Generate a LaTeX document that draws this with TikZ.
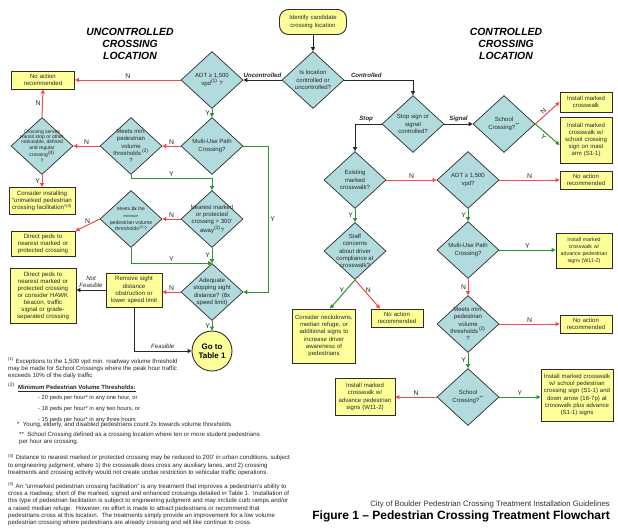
\documentclass[tikz,border=0pt]{standalone}
\usepackage{fontspec}
\setmainfont{Liberation Sans}
\usetikzlibrary{shapes.geometric,arrows.meta,calc}
\definecolor{dfill}{RGB}{178,219,222}
\definecolor{bfill}{RGB}{255,255,153}
\definecolor{ared}{RGB}{250,70,70}
\definecolor{agreen}{RGB}{40,150,40}
\definecolor{bord}{RGB}{45,45,45}
\newcommand{\fsz}[2]{\fontsize{#1}{#2}\selectfont}
\tikzset{
  dia/.style={diamond, draw=bord, line width=.7pt, fill=dfill, minimum width=62pt, minimum height=57pt, inner sep=0pt},
  dtxt/.style={align=center, font=\fsz{6}{7.3}, inner sep=0pt, text=black!85},
  box/.style={rectangle, draw=bord, line width=.9pt, fill=bfill, align=center, inner sep=1pt, font=\fsz{6}{7.2}, text=black!85},
  lbox/.style={box, font=\fsz{6.1}{7.1}},
  rbox/.style={box, rounded corners=9pt},
  circ/.style={circle, draw=bord, line width=.9pt, fill=bfill, minimum size=40pt, inner sep=0pt, align=center, font=\fsz{8}{9.2}\bfseries},
  ln/.style={line width=1pt, -{Triangle[length=4pt,width=4pt]}},
  rl/.style={ln, draw=ared},
  gl/.style={ln, draw=agreen},
  kl/.style={ln, draw=black!85},
  yn/.style={font=\fsz{6.8}{7}, text=black!85, inner sep=1.5pt},
  bl/.style={font=\fsz{6.1}{6.5}\bfseries\itshape, inner sep=1.5pt, text=black!85},
  il/.style={font=\fsz{6.1}{7}\itshape, inner sep=1.5pt, align=center, text=black!85},
  hdr/.style={font=\fsz{10.4}{12}\bfseries\itshape, align=center},
  fn/.style={font=\fsz{6.1}{7.3}, align=left, anchor=north west, inner sep=0pt, text=black!85},
}
\begin{document}
\begin{tikzpicture}[x=1pt,y=-1pt]
\useasboundingbox[fill=white] (0,0) rectangle (618,528);
% headers
\node[hdr] (hU) at (130,44) {UNCONTROLLED\\CROSSING\\LOCATION};
\node[hdr] (hC) at (506,44) {CONTROLLED\\CROSSING\\LOCATION};
% start
\node[rbox, minimum width=67pt, minimum height=25pt, text width=64pt] (start) at (313,22) {Identify candidate\\crossing location};
\node[dia, label={[dtxt]center:{Is location\\controlled or\\uncontrolled?}}] (ctl) at (313,80) {};
% uncontrolled side
\node[dia, label={[dtxt]center:{ADT ≥ 1,500\\vpd\textsuperscript{(1)} ?}}] (adtU) at (212,80) {};
\node[box, minimum width=63pt, minimum height=18pt, text width=61pt] (na1) at (43,80) {No action\\recommended};
\node[dia, label={[dtxt]center:{Multi-Use Path\\Crossing?}}] (mupU) at (212,146) {};
\node[dia, label={[dtxt]center:{Meets min.\\pedestrian\\volume\\thresholds\,\textsuperscript{(2)}\\?}}] (mmU) at (131,146) {};
\node[dia, label={[dtxt,font=\fsz{5}{5.2}]center:{Crossing serves\\transit stop or other\\noticeable, defined\\and regular\\crossing\textsuperscript{(4)}\\?}}] (cs) at (42,146) {};
\node[lbox, minimum width=66pt, minimum height=27pt, text width=64pt] (ci) at (42,201) {Consider installing\\``unmarked pedestrian\\crossing facilitation''\textsuperscript{(4)}};
\node[dia, label={[dtxt]center:{Nearest marked\\or protected\\crossing > 300'\\away\textsuperscript{(3)}?}}] (near) at (212,219) {};
\node[dia, label={[dtxt,font=\fsz{5.2}{6.6}]center:{{\fsz{4.8}{5.5}Meets \textbf{2x} the}\\{\fsz{3.6}{4.5}minimum}\\pedestrian volume\\thresholds\textsuperscript{(2)}?}}] (m2x) at (131,219) {};
\node[lbox, minimum width=64pt, minimum height=25pt, text width=62pt] (dp) at (43,244) {Direct peds to\\nearest marked or\\protected crossing};
\node[dia, label={[dtxt]center:{Adequate\\stopping sight\\distance? (8x\\speed limit)}}] (adq) at (212,292) {};
\node[lbox, minimum width=56pt, minimum height=34pt, text width=54pt] (rm) at (134,290) {Remove sight\\distance\\obstruction or\\lower speed limit};
\node[lbox, minimum width=66pt, minimum height=55pt, text width=64pt] (hk) at (43,296) {Direct peds to\\nearest marked or\\protected crossing\\or consider HAWK\\beacon, traffic\\signal or grade-\\separated crossing};
\node[circ] (goto) at (212,351) {Go to\\Table 1};
% controlled side
\node[dia, label={[dtxt]center:{Stop sign or\\signal\\controlled?}}] (stop) at (413,124) {};
\node[dia, label={[dtxt]center:{School\\Crossing?\textsuperscript{**}}}] (sc1) at (504,124) {};
\node[box, minimum width=52pt, minimum height=20pt, text width=50pt] (im1) at (586,102) {Install marked\\crosswalk};
\node[box, minimum width=52pt, minimum height=46pt, text width=50pt] (im2) at (586,140) {Install marked\\crosswalk w/\\school crossing\\sign on mast\\arm (S1-1)};
\node[dia, label={[dtxt]center:{Existing\\marked\\crosswalk?}}] (ex) at (355,180) {};
\node[dia, label={[dtxt]center:{ADT ≥ 1,500\\vpd?}}] (adtC) at (468,180) {};
\node[box, minimum width=52pt, minimum height=18pt, text width=50pt] (na2) at (586,180) {No action\\recommended};
\node[dia, label={[dtxt]center:{Multi-Use Path\\Crossing?}}] (mupC) at (468,250) {};
\node[box, font=\fsz{5.3}{7}, minimum width=56pt, minimum height=35pt, text width=54pt] (w11a) at (584,251) {Install marked\\crosswalk w/\\advance pedestrian\\signs (W11-2)};
\node[dia, label={[dtxt]center:{Meets min.\\pedestrian\\volume\\thresholds\,\textsuperscript{(2)}\\?}}] (mmC) at (468,324) {};
\node[box, minimum width=52pt, minimum height=18pt, text width=50pt] (na3) at (586,324) {No action\\recommended};
\node[dia, label={[dtxt]center:{School\\Crossing?\textsuperscript{**}}}] (sc2) at (468,397) {};
\node[box, minimum width=60pt, minimum height=37pt, text width=58pt] (w11b) at (365,397) {Install marked\\crosswalk w/\\advance pedestrian\\signs (W11-2)};
\node[box, minimum width=72pt, minimum height=52pt, text width=70pt] (s11) at (577,395) {Install marked crosswalk\\w/ school pedestrian\\crossing sign (S1-1) and\\down arrow (16-7p) at\\crosswalk plus advance\\(S1-1) signs};
\node[dia, label={[dtxt]center:{Staff\\concerns\\about driver\\compliance at\\crosswalk?}}] (staff) at (355,251) {};
\node[box, minimum width=63pt, minimum height=54pt, text width=61pt] (neck) at (324,336) {Consider neckdowns,\\median refuge, or\\additional signs to\\increase driver\\awareness of\\pedestrians};
\node[box, minimum width=52pt, minimum height=18pt, text width=50pt] (na4) at (397,318) {No action\\recommended};
% connectors
\draw[kl] (start.south) -- (ctl.north);
\draw[kl] (ctl.west) -- node[bl,above]{Uncontrolled} (adtU.east);
\draw[kl] (ctl.east) -| node[bl,above,pos=.16]{Controlled} (stop.north);
\draw[kl] (stop.west) -| node[bl,above,pos=.29]{Stop} (ex.north);
\draw[kl] (stop.east) -- node[bl,above]{Signal} (sc1.west);
\draw[rl] (sc1.east) -- node[yn,above,sloped,pos=.45]{N} (im1.west);
\draw[gl] (sc1.east) -- node[yn,below,sloped,pos=.45]{Y} ([yshift=-5pt]im2.west);
\draw[rl] (ex.east) -- node[yn,above]{N} (adtC.west);
\draw[rl] (adtC.east) -- node[yn,above]{N} (na2.west);
\draw[gl] (adtC.south) -- node[yn,left]{Y} (mupC.north);
\draw[gl] (mupC.east) -- node[yn,above]{Y} (mupC.east -| w11a.west);
\draw[rl] (mupC.south) -- node[yn,left]{N} (mmC.north);
\draw[rl] (mmC.east) -- node[yn,above]{N} (na3.west);
\draw[gl] (mmC.south) -- node[yn,left]{Y} (sc2.north);
\draw[rl] (sc2.west) -- node[yn,above]{N} (w11b.east);
\draw[gl] (sc2.east) -- node[yn,above]{Y} (sc2.east -| s11.west);
\draw[gl] (ex.south) -- node[yn,left]{Y} (staff.north);
\draw[gl] (staff.south) -- node[yn,left,pos=.35]{Y} ([xshift=6pt]neck.north);
\draw[rl] (staff.south) -- node[yn,right,pos=.35]{N} ([xshift=-17pt]na4.north);
\draw[rl] (adtU.west) -- node[yn,above]{N} (na1.east);
\draw[gl] (adtU.south) -- node[yn,left]{Y} (mupU.north);
\draw[rl] (mupU.west) -- node[yn,above]{N} (mmU.east);
\draw[rl] (mmU.west) -- node[yn,above]{N} (cs.east);
\draw[rl] (cs.north) -- node[yn,left]{N} (na1.south);
\draw[rl] (cs.south) -- node[yn,left]{Y} (ci.north);
\draw[gl] (mmU.south) -- ++(0,4) -| node[yn,above,pos=.25]{Y} (near.north);
\draw[gl] (mupU.east) -- ++(25,0) |- node[yn,right,pos=.25]{Y} (adq.east);
\draw[rl] (near.west) -- node[yn,above]{N} (m2x.east);
\draw[rl] (m2x.west) -- node[yn,above]{N} (dp.north east);
\draw[gl] (near.south) -- node[yn,left]{Y} (adq.north);
\draw[gl] (m2x.south) |- node[yn,above,pos=.75]{Y} (adq.north);
\draw[rl] (adq.west) -- node[yn,above]{N} (adq.west -| rm.east);
\draw[gl] (adq.south) -- node[yn,left]{Y} (goto.north);
\draw[kl] (rm.west) -- node[il,above]{Not\\Feasible} (rm.west -| hk.east);
\draw[kl] (rm.south) |- node[il,above,pos=.75]{Feasible} (goto.west);
% footnotes
\node[fn] (f1) at (8,357.5) {\textsuperscript{(1)} Exceptions to the 1,500 vpd min. roadway volume threshold\\may be made for School Crossings where the peak hour traffic\\exceeds 10\% of the daily traffic};
\node[fn, font=\fsz{6}{7.3}] (f2) at (8,383) {\textsuperscript{(2)}\ \ \textbf{\underline{Minimum Pedestrian Volume Thresholds:}}};
\node[fn, font=\fsz{5.8}{10.9}] (f2a) at (38,395) {- 20 peds per hour* in any one hour, or\\- 18 peds per hour* in any two hours, or\\- 15 peds per hour* in any three hours};
\node[fn] (f2b) at (17,421.5) {*\ \ Young, elderly, and disabled pedestrians count 2x towards volume thresholds};
\node[fn, font=\fsz{6.1}{7.5}] (f2c) at (19,431.5) {**\ \ School Crossing defined as a crossing location where ten or more student pedestrians\\per hour are crossing.};
\node[fn, font=\fsz{6.1}{7.2}] (f3) at (8,454) {\textsuperscript{(3)} Distance to nearest marked or protected crossing may be reduced to 200' in urban conditions, subject\\to engineering judgment, where 1) the crosswalk does cross any auxiliary lanes, and 2) crossing\\treatments and crossing activity would not create undue restriction to vehicular traffic operations.};
\node[fn] (f4) at (8,482.5) {\textsuperscript{(4)} An ``unmarked pedestrian crossing facilitation'' is any treatment that improves a pedestrian's ability to\\cross a roadway, short of the marked, signed and enhanced crossings detailed in Table 1.\ \ Installation of\\this type of pedestrian facilitation is subject to engineering judgment and may include curb ramps and/or\\a raised median refuge.\ \ However, no effort is made to attract pedestrians or recommend that\\pedestrians cross at this location.\ \ The treatments simply provide an improvement for a low volume\\pedestrian crossing where pedestrians are already crossing and will like continue to cross.};
% caption
\node[anchor=base east, font=\fsz{7.8}{9}, text=black!80, inner sep=0pt] (cap1) at (610,506.5) {City of Boulder Pedestrian Crossing Treatment Installation Guidelines};
\node[anchor=base east, font=\fsz{12}{13}\bfseries, inner sep=0pt] (cap2) at (610,519.5) {Figure 1 -- Pedestrian Crossing Treatment Flowchart};
\end{tikzpicture}
\end{document}
